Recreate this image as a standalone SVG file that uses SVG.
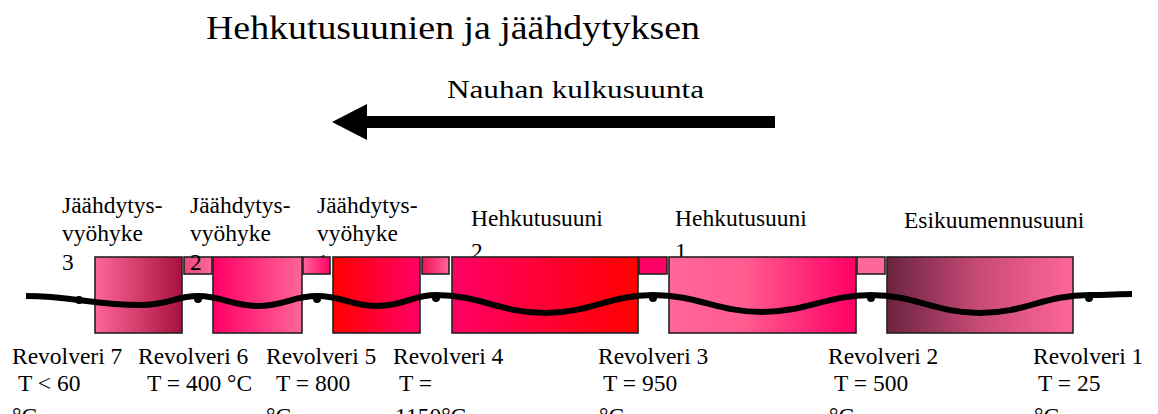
<svg xmlns="http://www.w3.org/2000/svg" width="1158" height="414" viewBox="0 0 1158 414">
<style>
text{font-family:"Liberation Serif","Times New Roman",serif;fill:#000;}
.lbl{font-size:23.5px;}
.box{stroke:#222;stroke-width:1.6;}
.belt{fill:none;stroke:#000;stroke-width:6;stroke-linecap:butt;}
.roll{fill:#000;}
</style>
<defs>
<linearGradient id="gA" x1="0" y1="0" x2="1" y2="0"><stop offset="0" stop-color="#FF6699"/><stop offset="1" stop-color="#A8123E"/></linearGradient>
<linearGradient id="gS1" x1="0" y1="0" x2="1" y2="0"><stop offset="0" stop-color="#E84A80"/><stop offset="1" stop-color="#FF6699"/></linearGradient>
<linearGradient id="gB" x1="0" y1="0" x2="1" y2="0"><stop offset="0" stop-color="#FF0066"/><stop offset="1" stop-color="#FF6699"/></linearGradient>
<linearGradient id="gS2" x1="0" y1="0" x2="1" y2="0"><stop offset="0" stop-color="#FF6699"/><stop offset="1" stop-color="#FF0066"/></linearGradient>
<linearGradient id="gC" x1="0" y1="0" x2="1" y2="0"><stop offset="0" stop-color="#FF0000"/><stop offset="1" stop-color="#FF0066"/></linearGradient>
<linearGradient id="gS3" x1="0" y1="0" x2="1" y2="0"><stop offset="0" stop-color="#F0105A"/><stop offset="1" stop-color="#FF6699"/></linearGradient>
<linearGradient id="gD" x1="0" y1="0" x2="1" y2="0"><stop offset="0" stop-color="#FF0066"/><stop offset="1" stop-color="#FF0000"/></linearGradient>
<linearGradient id="gE" x1="0" y1="0" x2="1" y2="0"><stop offset="0" stop-color="#FF6699"/><stop offset="0.4" stop-color="#FF5C90"/><stop offset="1" stop-color="#FF0066"/></linearGradient>
<linearGradient id="gF" x1="0" y1="0" x2="1" y2="0"><stop offset="0" stop-color="#6B2340"/><stop offset="0.5" stop-color="#C94B78"/><stop offset="1" stop-color="#FF6699"/></linearGradient>
</defs>

<g id="title">
<text x="206" y="39" font-size="33" textLength="494" lengthAdjust="spacingAndGlyphs">Hehkutusuunien ja jäähdytyksen</text>
</g>

<g id="direction">
<text x="447" y="98" font-size="26" textLength="257" lengthAdjust="spacingAndGlyphs">Nauhan kulkusuunta</text>
<rect x="366" y="116" width="409" height="12" fill="#000"/>
<polygon points="332,122 367,104 367,140" fill="#000"/>
</g>

<g id="zone-j3">
<text class="lbl" x="62" y="213">Jäähdytys-</text>
<text class="lbl" x="62" y="241">vyöhyke</text>
<text class="lbl" x="62" y="270">3</text>
<rect class="box" x="95" y="257" width="87" height="76" fill="url(#gA)"/>
</g>
<g id="gap-1"><rect class="box" x="184" y="257" width="28" height="17" fill="url(#gS1)"/></g>
<g id="zone-j2">
<text class="lbl" x="190" y="213">Jäähdytys-</text>
<text class="lbl" x="190" y="241">vyöhyke</text>
<text class="lbl" x="190" y="270">2</text>
<rect class="box" x="213" y="257" width="89" height="76" fill="url(#gB)"/>
</g>
<g id="zone-j1">
<text class="lbl" x="317" y="213">Jäähdytys-</text>
<text class="lbl" x="317" y="241">vyöhyke</text>
<text class="lbl" x="317" y="270">1</text>
<rect class="box" x="333" y="257" width="87" height="76" fill="url(#gC)"/>
</g>
<g id="gap-2"><rect class="box" x="303" y="257" width="27" height="17" fill="url(#gS2)"/></g>
<g id="gap-3"><rect class="box" x="422" y="257" width="27" height="17" fill="url(#gS3)"/></g>
<g id="zone-h2">
<text class="lbl" x="471" y="226">Hehkutusuuni</text>
<text class="lbl" x="471" y="259">2</text>
<rect class="box" x="452" y="257" width="186" height="76" fill="url(#gD)"/>
</g>
<g id="gap-4"><rect class="box" x="639" y="257" width="28" height="17" fill="#FF0066"/></g>
<g id="zone-h1">
<text class="lbl" x="675" y="226">Hehkutusuuni</text>
<text class="lbl" x="675" y="259">1</text>
<rect class="box" x="669" y="257" width="187" height="76" fill="url(#gE)"/>
</g>
<g id="gap-5"><rect class="box" x="857" y="257" width="28" height="17" fill="#FF6699"/></g>
<g id="zone-esi">
<text class="lbl" x="904" y="228">Esikuumennusuuni</text>
<rect class="box" x="887" y="257" width="186" height="76" fill="url(#gF)"/>
</g>

<g id="connectors">
<path class="belt" d="M26 296 C70 296 95 305 140 305 C170 305 175 296 198 296 C222 296 232 306 257 306 C285 306 292 296 317 296 C343 296 350 306 377 306 C405 306 412 295 436 295 C480 295 500 313 545 313 C590 313 610 295 653 295 C698 295 718 312 762 312 C806 312 828 295 871 295 C915 295 935 313 980 313 C1025 313 1045 295 1089 295 C1108 295 1118 294 1132 294"/>
</g>

<g id="rev7"><circle class="roll" cx="79" cy="300" r="4"/>
<text class="lbl" x="12" y="364">Revolveri 7</text><text class="lbl" x="18" y="391">T &lt; 60</text><text class="lbl" x="12" y="424">°C</text></g>
<g id="rev6"><circle class="roll" cx="198" cy="299" r="4"/>
<text class="lbl" x="138" y="364">Revolveri 6</text><text class="lbl" x="147" y="391">T = 400 °C</text></g>
<g id="rev5"><circle class="roll" cx="317" cy="299" r="4"/>
<text class="lbl" x="266" y="364">Revolveri 5</text><text class="lbl" x="276" y="391">T = 800</text><text class="lbl" x="266" y="424">°C</text></g>
<g id="rev4"><circle class="roll" cx="436" cy="298" r="4"/>
<text class="lbl" x="393" y="364">Revolveri 4</text><text class="lbl" x="399" y="391">T =</text><text class="lbl" x="395" y="424">1150°C</text></g>
<g id="rev3"><circle class="roll" cx="653" cy="298" r="4"/>
<text class="lbl" x="598" y="364">Revolveri 3</text><text class="lbl" x="603" y="391">T = 950</text><text class="lbl" x="599" y="424">°C</text></g>
<g id="rev2"><circle class="roll" cx="871" cy="298" r="4"/>
<text class="lbl" x="828" y="364">Revolveri 2</text><text class="lbl" x="834" y="391">T = 500</text><text class="lbl" x="829" y="424">°C</text></g>
<g id="rev1"><circle class="roll" cx="1089" cy="298" r="4"/>
<text class="lbl" x="1033" y="364">Revolveri 1</text><text class="lbl" x="1038" y="391">T = 25</text><text class="lbl" x="1034" y="424">°C</text></g>
</svg>
